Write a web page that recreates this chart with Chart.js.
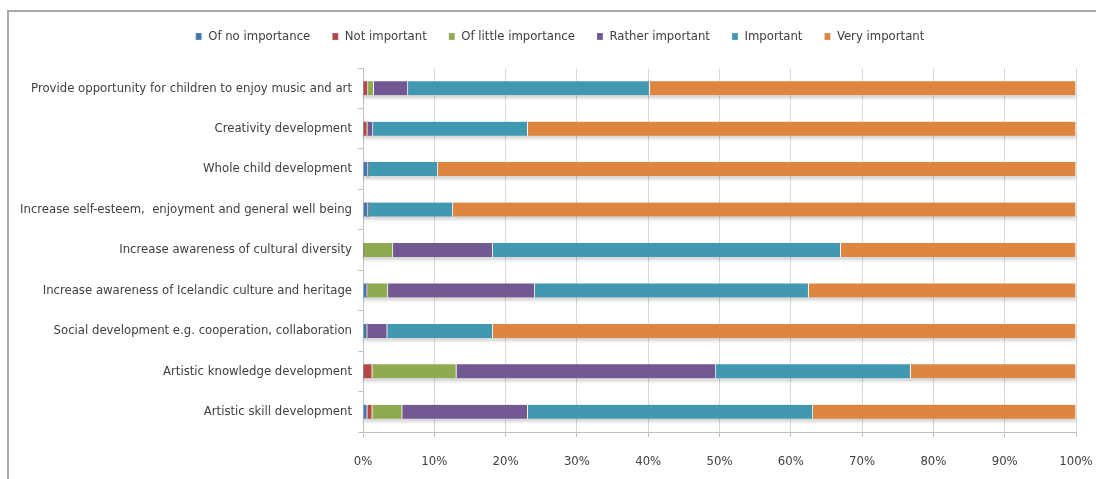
<!DOCTYPE html>
<html>
<head>
<meta charset="utf-8">
<script src="https://cdn.jsdelivr.net/npm/chart.js@4"></script>
<style>
  html, body { margin: 0; padding: 0; background: #fff; }
  #wrap { position: relative; width: 1096px; height: 479px; overflow: hidden; }
  #frame { position: absolute; left: 7px; top: 10px; width: 1200px; height: 600px;
           border-top: 2px solid #a8a8a8; border-left: 2px solid #a8a8a8; }
  canvas { position: absolute; left: 0; top: 0; }
</style>
</head>
<body>
<div id="wrap">
  <div id="frame"></div>
  <canvas id="chart" width="1096" height="479"></canvas>
</div>
<script>
const categories = [
  'Provide opportunity for children to enjoy music and art',
  'Creativity development',
  'Whole child development',
  'Increase self-esteem,  enjoyment and general well being',
  'Increase awareness of cultural diversity',
  'Increase awareness of Icelandic culture and heritage',
  'Social development e.g. cooperation, collaboration',
  'Artistic knowledge development',
  'Artistic skill development'
];

const seriesNames = ['Of no importance', 'Not important', 'Of little importance', 'Rather important', 'Important', 'Very important'];
const seriesColors = ['#4676b0', '#b54846', '#8eab51', '#735994', '#4198b1', '#de8540'];

// percent of answers per category, top to bottom
const noImportance     = [0,    0,    0.7,  0.7,  0,    0.6,  0.6,  0,    0.6];
const notImportant     = [0.7,  0.6,  0,    0,    0,    0,    0,    1.3,  0.7];
const littleImportance = [0.8,  0,    0,    0,    4.2,  2.9,  0,    11.8, 4.2];
const ratherImportant  = [4.8,  0.8,  0,    0,    14.0, 20.6, 2.8,  36.4, 17.6];
const important        = [33.9, 21.7, 9.8,  11.9, 48.8, 38.4, 14.8, 27.3, 40.0];
const veryImportant    = [59.8, 76.9, 89.5, 87.4, 33.0, 37.5, 81.8, 23.2, 36.9];

const tickLabels = ['0%', '10%', '20%', '30%', '40%', '50%', '60%', '70%', '80%', '90%', '100%'];

const seriesValues = [noImportance, notImportant, littleImportance, ratherImportant, important, veryImportant];

const datasets = seriesNames.map((name, i) => ({
  label: name,
  data: seriesValues[i],
  backgroundColor: seriesColors[i],
  borderColor: 'rgba(255,255,255,0.85)',
  borderWidth: { right: 1, left: 0, top: 0, bottom: 0 },
  borderSkipped: false,
  barThickness: 14
}));

const textFont = { family: '"Liberation Sans Narrow", "DejaVu Sans Condensed", sans-serif', size: 13 };

// soft grey shadow under each full bar, taken from the bar elements themselves
const barShadow = {
  id: 'barShadow',
  beforeDatasetsDraw(chart) {
    const c = chart.ctx;
    const first = chart.getDatasetMeta(0).data;
    const last = chart.getDatasetMeta(chart.data.datasets.length - 1).data;
    c.save();
    c.fillStyle = 'rgba(0,0,0,0.18)';
    c.filter = 'blur(1.5px)';
    first.forEach((bar, i) => {
      const x0 = bar.base;
      const x1 = last[i].x;
      const h = bar.height;
      c.fillRect(x0, bar.y + h / 2 - 1, x1 - x0, 4);
    });
    c.restore();
  }
};

// fixed legend height so the plot starts where the original does,
// and nudge the legend right a bit (it sits off-centre in the original)
const legendPlace = {
  id: 'legendPlace',
  beforeInit(chart) {
    const fit = chart.legend.fit;
    chart.legend.fit = function () {
      fit.call(this);
      this.height = 60;
    };
  },
  afterLayout(chart) {
    chart.legend.left += 12;
    chart.legend.right += 12;
  }
};

new Chart(document.getElementById('chart').getContext('2d'), {
  type: 'bar',
  data: { labels: categories, datasets },
  plugins: [barShadow, legendPlace],
  options: {
    indexAxis: 'y',
    responsive: false,
    animation: false,
    layout: { padding: { top: 8, right: 0, left: 0, bottom: 0 } },
    plugins: {
      legend: {
        position: 'top',
        labels: {
          boxWidth: 6,
          boxHeight: 7,
          padding: 22,
          color: '#404040',
          font: textFont
        }
      },
      tooltip: { enabled: false }
    },
    scales: {
      x: {
        stacked: true,
        min: 0,
        max: 100,
        afterFit(scale) {
          scale.height = 47;
          scale.paddingRight = 20;
          scale.paddingLeft = 0;
        },
        afterBuildTicks(scale) {
          scale.ticks = tickLabels.map((t, i) => ({ value: i * 10 }));
        },
        ticks: {
          color: '#404040',
          font: textFont,
          padding: 17,
          maxRotation: 0,
          callback: (v, i) => tickLabels[i]
        },
        grid: { color: '#d9d9d9', tickLength: 5, tickColor: '#bfbfbf' },
        border: { color: '#bfbfbf' }
      },
      y: {
        stacked: true,
        afterFit(scale) { scale.width = 363; },
        ticks: { color: '#404040', font: textFont, padding: 6, autoSkip: false },
        grid: { drawOnChartArea: false, offset: true, tickLength: 5, tickColor: '#bfbfbf' },
        border: { color: '#bfbfbf' }
      }
    }
  }
});
</script>
</body>
</html>
